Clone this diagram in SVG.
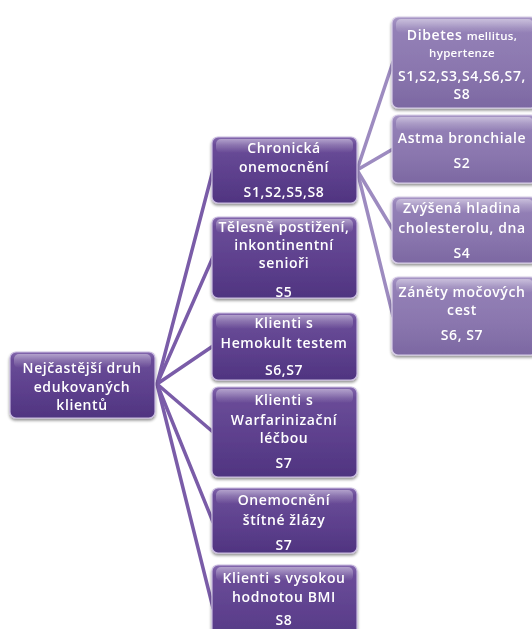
<svg xmlns="http://www.w3.org/2000/svg" width="532" height="629" viewBox="0 0 532 629">
<defs>
<linearGradient id="gDark" x1="0" y1="0" x2="0" y2="1">
<stop offset="0" stop-color="#8468ae"/>
<stop offset="0.12" stop-color="#6a4c98"/>
<stop offset="0.6" stop-color="#5c3f8c"/>
<stop offset="1" stop-color="#4f3480"/>
</linearGradient>
<linearGradient id="gLight" x1="0" y1="0" x2="0" y2="1">
<stop offset="0" stop-color="#a897c6"/>
<stop offset="0.12" stop-color="#9481b7"/>
<stop offset="0.6" stop-color="#8a76ae"/>
<stop offset="1" stop-color="#7c68a2"/>
</linearGradient>
<linearGradient id="gGloss" x1="0" y1="0" x2="0" y2="1">
<stop offset="0" stop-color="#ffffff" stop-opacity="0.4"/>
<stop offset="1" stop-color="#ffffff" stop-opacity="0"/>
</linearGradient>
<filter id="sh" x="-10%" y="-10%" width="120%" height="130%">
<feGaussianBlur in="SourceAlpha" stdDeviation="1.6"/>
<feOffset dx="0" dy="2" result="b"/>
<feComponentTransfer><feFuncA type="linear" slope="0.45"/></feComponentTransfer>
<feMerge><feMergeNode/><feMergeNode in="SourceGraphic"/></feMerge>
</filter>
</defs>
<style>
.bd{fill:url(#gDark);stroke:#c9bbe0;stroke-width:1.2}
.bl{fill:url(#gLight);stroke:#d8cde8;stroke-width:1.2}
.gl{fill:url(#gGloss)}
.t{font-family:"Open Sans","Liberation Sans",sans-serif;font-weight:600;font-size:14px;fill:#ffffff;text-anchor:middle;letter-spacing:0.6px}
.ts{font-size:11.5px;letter-spacing:0.3px}
.c1{stroke:#7a5ca8;stroke-width:3.5;fill:none;stroke-linecap:round}
.c2{stroke:#9d8bc0;stroke-width:3.5;fill:none;stroke-linecap:round}
</style>
<rect width="532" height="629" fill="#ffffff"/>
<g id="connectors">
<line class="c1" x1="157" y1="384" x2="213" y2="170"/>
<line class="c1" x1="157" y1="384" x2="213" y2="257"/>
<line class="c1" x1="157" y1="384" x2="213" y2="346"/>
<line class="c1" x1="157" y1="384" x2="213" y2="432"/>
<line class="c1" x1="157" y1="384" x2="213" y2="522"/>
<line class="c1" x1="157" y1="384" x2="213" y2="608"/>
<line class="c2" x1="357" y1="170" x2="393" y2="62"/>
<line class="c2" x1="357" y1="170" x2="393" y2="149"/>
<line class="c2" x1="357" y1="170" x2="393" y2="230"/>
<line class="c2" x1="357" y1="170" x2="393" y2="316"/>
</g>
<g id="root" filter="url(#sh)">
<rect class="bd" x="10" y="352" width="145" height="66" rx="6"/>
<rect class="gl" x="14" y="354" width="137" height="14" rx="5"/>
<text class="t" x="82" y="373">Nejčastější druh</text>
<text class="t" x="82" y="392">edukovaných</text>
<text class="t" x="82" y="410">klientů</text>
</g>
<g id="n-chronicka" filter="url(#sh)">
<rect class="bd" x="212" y="137" width="145" height="66" rx="6"/>
<rect class="gl" x="216" y="139" width="137" height="14" rx="5"/>
<text class="t" x="284" y="153">Chronická</text>
<text class="t" x="284" y="172">onemocnění</text>
<text class="t" x="284" y="197">S1,S2,S5,S8</text>
</g>
<g id="n-telesne" filter="url(#sh)">
<rect class="bd" x="212" y="217" width="145" height="81" rx="6"/>
<rect class="gl" x="216" y="219" width="137" height="14" rx="5"/>
<text class="t" x="284" y="232">Tělesně postižení,</text>
<text class="t" x="284" y="250">inkontinentní</text>
<text class="t" x="284" y="268">senioři</text>
<text class="t" x="284" y="297">S5</text>
</g>
<g id="n-hemokult" filter="url(#sh)">
<rect class="bd" x="212" y="313" width="145" height="67" rx="6"/>
<rect class="gl" x="216" y="315" width="137" height="14" rx="5"/>
<text class="t" x="284" y="328">Klienti s</text>
<text class="t" x="284" y="348">Hemokult testem</text>
<text class="t" x="284" y="375">S6,S7</text>
</g>
<g id="n-warfarin" filter="url(#sh)">
<rect class="bd" x="212" y="387" width="145" height="90" rx="6"/>
<rect class="gl" x="216" y="389" width="137" height="14" rx="5"/>
<text class="t" x="284" y="405">Klienti s</text>
<text class="t" x="284" y="425">Warfarinizační</text>
<text class="t" x="284" y="443">léčbou</text>
<text class="t" x="284" y="468">S7</text>
</g>
<g id="n-stitne" filter="url(#sh)">
<rect class="bd" x="212" y="488" width="145" height="65" rx="6"/>
<rect class="gl" x="216" y="490" width="137" height="14" rx="5"/>
<text class="t" x="284" y="505">Onemocnění</text>
<text class="t" x="284" y="525">štítné žlázy</text>
<text class="t" x="284" y="550">S7</text>
</g>
<g id="n-bmi" filter="url(#sh)">
<rect class="bd" x="212" y="565" width="145" height="90" rx="6"/>
<rect class="gl" x="216" y="567" width="137" height="14" rx="5"/>
<text class="t" x="284" y="583">Klienti s vysokou</text>
<text class="t" x="284" y="602">hodnotou BMI</text>
<text class="t" x="284" y="625">S8</text>
</g>
<g id="n-dibetes" filter="url(#sh)">
<rect class="bl" x="392" y="17" width="145" height="91" rx="6"/>
<rect class="gl" x="396" y="19" width="137" height="14" rx="5"/>
<text class="t" x="462" y="40">Dibetes <tspan class="ts">mellitus,</tspan></text>
<text class="t ts" x="462" y="57">hypertenze</text>
<text class="t" x="462" y="81">S1,S2,S3,S4,S6,S7,</text>
<text class="t" x="462" y="99">S8</text>
</g>
<g id="n-astma" filter="url(#sh)">
<rect class="bl" x="392" y="115" width="145" height="68" rx="6"/>
<rect class="gl" x="396" y="117" width="137" height="14" rx="5"/>
<text class="t" x="462" y="143">Astma bronchiale</text>
<text class="t" x="462" y="168">S2</text>
</g>
<g id="n-zvysena" filter="url(#sh)">
<rect class="bl" x="392" y="197" width="145" height="66" rx="6"/>
<rect class="gl" x="396" y="199" width="137" height="14" rx="5"/>
<text class="t" x="462" y="213">Zvýšená hladina</text>
<text class="t" x="462" y="233">cholesterolu, dna</text>
<text class="t" x="462" y="258">S4</text>
</g>
<g id="n-zanety" filter="url(#sh)">
<rect class="bl" x="392" y="277" width="145" height="78" rx="6"/>
<rect class="gl" x="396" y="279" width="137" height="14" rx="5"/>
<text class="t" x="462" y="297">Záněty močových</text>
<text class="t" x="462" y="315">cest</text>
<text class="t" x="462" y="340">S6, S7</text>
</g>
</svg>
